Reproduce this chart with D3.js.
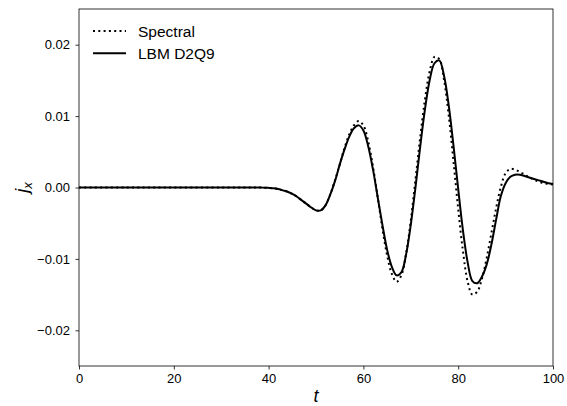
<!DOCTYPE html>
<html>
<head>
<meta charset="utf-8">
<script src="https://cdn.jsdelivr.net/npm/d3@7"></script>
<style>
  body { margin: 0; background: #fff; }
  svg { display: block; }
  text { font-family: "Liberation Sans", Arial, sans-serif; fill: #000; }
</style>
</head>
<body>
<svg id="chart" width="567" height="406"></svg>
<script>
// sample times (t) of both curves
const tSamples = [0, 10, 20, 30, 36, 38, 39, 40, 41, 42, 43, 44, 45, 46, 47, 48, 49, 50,
  51, 52, 53, 54, 55, 56, 57, 58, 59, 60, 61, 62, 63, 64, 65, 66, 67, 68, 69, 70,
  71, 72, 73, 74, 75, 76, 77, 78, 79, 80, 81, 82, 83, 84, 85, 86, 87, 88, 89, 90,
  91, 92, 93, 94, 95, 96, 97, 98, 99, 100];

// Spectral solution (dotted)
const spectral = [0, 0, 0, 0, 0, 0, -0.00002, -0.00005, -0.0001, -0.0002, -0.0004, -0.0006, -0.0009, -0.0013, -0.0018, -0.0023, -0.0028, -0.0032,
  -0.0032, -0.0025, -0.0010, 0.0010, 0.0032, 0.0055, 0.0074, 0.0087, 0.0093, 0.0087, 0.0065, 0.0030, -0.0013, -0.0057, -0.0095, -0.0121, -0.0132, -0.0123, -0.0093, -0.0046,
  0.0012, 0.0071, 0.0124, 0.0163, 0.0183, 0.0180, 0.0151, 0.0101, 0.0037, -0.0030, -0.0089, -0.0132, -0.0150, -0.0146, -0.0128, -0.0099, -0.0064, -0.0029, 0.0001, 0.0020,
  0.0026, 0.0025, 0.0022, 0.0018, 0.0014, 0.0011, 0.0008, 0.0006, 0.0005, 0.0004];

// LBM D2Q9 (solid)
const lbm = [0, 0, 0, 0, 0, 0, -0.00002, -0.00005, -0.0001, -0.0002, -0.0004, -0.0006, -0.0009, -0.0013, -0.0018, -0.0023, -0.0028, -0.0032,
  -0.0032, -0.0025, -0.0010, 0.0009, 0.0032, 0.0053, 0.0071, 0.0083, 0.0087, 0.0080, 0.0058, 0.0026, -0.0013, -0.0052, -0.0087, -0.0111, -0.0123, -0.0119, -0.0094, -0.0052,
  0.0001, 0.0058, 0.0110, 0.0151, 0.0174, 0.0178, 0.0157, 0.0115, 0.0059, -0.0002, -0.0060, -0.0105, -0.0131, -0.0134, -0.0125, -0.0108, -0.0080, -0.0045, -0.0012, 0.0006,
  0.0015, 0.0018, 0.0018, 0.0016, 0.0014, 0.0012, 0.0010, 0.0008, 0.0006, 0.0005];

const xTicks = [0, 20, 40, 60, 80, 100];
const yTicks = [-0.02, -0.01, 0.00, 0.01, 0.02];
const seriesNames = ["Spectral", "LBM D2Q9"];

let svg = d3.select("#chart");
let margin = {top: 9, right: 14, bottom: 40, left: 79};
let width = +svg.attr("width") - margin.left - margin.right,
    height = +svg.attr("height") - margin.top - margin.bottom;
let g = svg.append("g").attr("transform", "translate(" + margin.left + "," + margin.top + ")");

let x = d3.scaleLinear().domain([0, 100]).range([0, width]);
let y = d3.scaleLinear().domain([-0.025, 0.025]).range([height, 0]);

let line = d3.line()
    .x(function(d) { return x(d[0]); })
    .y(function(d) { return y(d[1]); })
    .curve(d3.curveCatmullRom.alpha(0.5));

g.append("path")
    .datum(tSamples.map(function(t, i) { return [t, spectral[i]]; }))
    .attr("fill", "none")
    .attr("stroke", "#000")
    .attr("stroke-width", 2)
    .attr("stroke-dasharray", "2,3.3")
    .attr("d", line);

g.append("path")
    .datum(tSamples.map(function(t, i) { return [t, lbm[i]]; }))
    .attr("fill", "none")
    .attr("stroke", "#000")
    .attr("stroke-width", 2)
    .attr("d", line);

// axes
let fmtY = function(d) { return d3.format(".2f")(d).replace("-", "\u2212"); };

let xAxis = g.append("g")
    .attr("transform", "translate(0," + height + ")")
    .call(d3.axisBottom(x).tickValues(xTicks).tickSize(3.5).tickPadding(4.3));
let yAxis = g.append("g")
    .call(d3.axisLeft(y).tickValues(yTicks).tickFormat(fmtY).tickSize(3.5).tickPadding(5.5));

[xAxis, yAxis].forEach(function(a) {
  a.select(".domain").remove();
  a.selectAll("line").attr("stroke", "#000").attr("stroke-width", 0.8);
  a.selectAll("text").style("font-size", "13px").style("font-family", "\"Liberation Sans\", Arial, sans-serif");
});

// frame
g.append("rect")
    .attr("x", 0).attr("y", 0)
    .attr("width", width).attr("height", height)
    .attr("fill", "none")
    .attr("stroke", "#000")
    .attr("stroke-width", 0.8);

// axis labels
g.append("text")
    .attr("x", width / 2)
    .attr("y", height + 36)
    .style("text-anchor", "middle")
    .style("font-size", "18px")
    .style("font-style", "italic")
    .text("t");

let yl = g.append("text")
    .attr("transform", "translate(" + (-51) + "," + (height / 2) + ") rotate(-90)")
    .style("text-anchor", "middle")
    .style("font-size", "18px")
    .style("font-style", "italic");
yl.append("tspan").text("j");
yl.append("tspan").attr("dy", 4).style("font-size", "13px").text("x");

// legend
let legend = g.append("g").attr("transform", "translate(14,22)");
seriesNames.forEach(function(name, i) {
  let row = legend.append("g").attr("transform", "translate(0," + (i * 22.3) + ")");
  row.append("line")
      .attr("x1", 0).attr("x2", 33)
      .attr("y1", 0).attr("y2", 0)
      .attr("stroke", "#000")
      .attr("stroke-width", 2)
      .attr("stroke-dasharray", i === 0 ? "2,3.3" : null);
  row.append("text")
      .attr("x", 45).attr("y", 5.5)
      .style("font-size", "15.5px")
      .text(name);
});
</script>
</body>
</html>
